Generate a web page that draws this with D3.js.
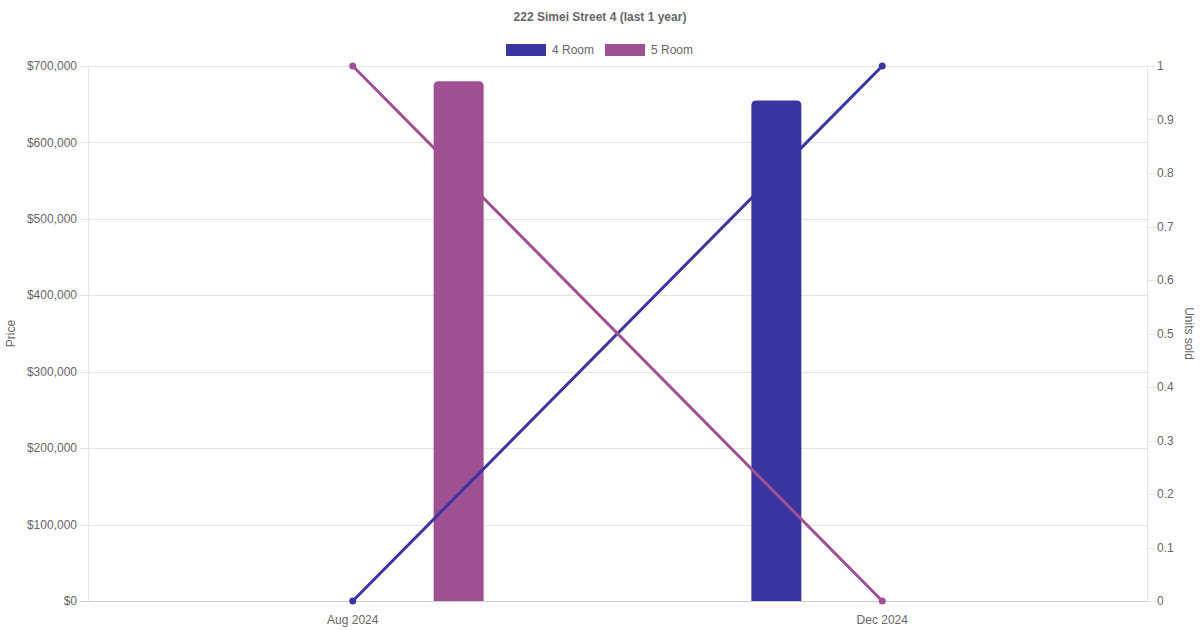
<!DOCTYPE html>
<html>
<head>
<meta charset="utf-8">
<script src="https://cdn.jsdelivr.net/npm/d3@7"></script>
<style>
  body { margin: 0; background: #fff; }
  svg { display: block; font-family: "Liberation Sans", Arial, sans-serif; }
</style>
</head>
<body>
<script>
// data
const months = ['Aug 2024', 'Dec 2024'];
const seriesNames = ['4 Room', '5 Room'];
const colors = ['#3a35a0', '#9f5093'];
const priceTicks = [0, 100000, 200000, 300000, 400000, 500000, 600000, 700000];
const unitTicks = [0, 0.1, 0.2, 0.3, 0.4, 0.5, 0.6, 0.7, 0.8, 0.9, 1];
// avg price per month (null = no sale)
const price4Room = [null, 655000];
const price5Room = [680000, null];
// units sold per month
const units4Room = [0, 1];
const units5Room = [1, 0];

const prices = [price4Room, price5Room];
const units = [units4Room, units5Room];

const width = 1200, height = 630;
const margin = { top: 66, right: 53, bottom: 29, left: 88 };

const svg = d3.select('body').append('svg')
  .attr('width', width)
  .attr('height', height);

const x = d3.scaleBand()
  .domain(months)
  .range([margin.left, width - margin.right]);

// bars take the middle 80% of each category
const xSeries = d3.scaleBand()
  .domain(seriesNames)
  .range([0.1 * x.bandwidth(), 0.9 * x.bandwidth()]);

const yPrice = d3.scaleLinear()
  .domain([0, 700000])
  .range([height - margin.bottom, margin.top]);

const yUnits = d3.scaleLinear()
  .domain([0, 1])
  .range([height - margin.bottom, margin.top]);

const fmt = d => '$' + d3.format(',')(d);

// grid lines
svg.append('g')
  .selectAll('line')
  .data(priceTicks)
  .join('line')
  .attr('x1', margin.left - 8)
  .attr('x2', width - margin.right)
  .attr('y1', d => Math.round(yPrice(d)) + 0.5)
  .attr('y2', d => Math.round(yPrice(d)) + 0.5)
  .attr('stroke', d => d === 0 ? '#cfcfcf' : '#e5e5e5');

// right tick marks
svg.append('g')
  .selectAll('line')
  .data(unitTicks)
  .join('line')
  .attr('x1', width - margin.right)
  .attr('x2', width - margin.right + 8)
  .attr('y1', d => Math.round(yUnits(d)) + 0.5)
  .attr('y2', d => Math.round(yUnits(d)) + 0.5)
  .attr('stroke', '#e5e5e5');

// axis borders
[margin.left, width - margin.right].forEach(xx => {
  svg.append('line')
    .attr('x1', xx + 0.5).attr('x2', xx + 0.5)
    .attr('y1', margin.top).attr('y2', height - margin.bottom)
    .attr('stroke', '#e5e5e5');
});

// left labels
svg.append('g')
  .selectAll('text')
  .data(priceTicks)
  .join('text')
  .attr('x', margin.left - 11)
  .attr('y', d => yPrice(d))
  .attr('dy', '0.35em')
  .attr('text-anchor', 'end')
  .attr('font-size', 12)
  .attr('fill', '#666')
  .text(fmt);

// right labels
svg.append('g')
  .selectAll('text')
  .data(unitTicks)
  .join('text')
  .attr('x', width - margin.right + 10)
  .attr('y', d => yUnits(d))
  .attr('dy', '0.35em')
  .attr('font-size', 12)
  .attr('fill', '#666')
  .text(d => d3.format('~g')(d));

// x labels
svg.append('g')
  .selectAll('text')
  .data(months)
  .join('text')
  .attr('x', d => x(d) + x.bandwidth() / 2)
  .attr('y', height - margin.bottom + 23)
  .attr('text-anchor', 'middle')
  .attr('font-size', 12)
  .attr('fill', '#666')
  .text(d => d);

// axis titles
svg.append('text')
  .attr('transform', `translate(15,${(margin.top + height - margin.bottom) / 2}) rotate(-90)`)
  .attr('text-anchor', 'middle')
  .attr('font-size', 12)
  .attr('fill', '#666')
  .text('Price');

svg.append('text')
  .attr('transform', `translate(1185,${(margin.top + height - margin.bottom) / 2}) rotate(90)`)
  .attr('text-anchor', 'middle')
  .attr('font-size', 12)
  .attr('fill', '#666')
  .text('Units sold');

// bars
const barW = 50;
function roundedTop(x0, y0, w, h, r) {
  r = Math.min(r, h);
  return `M${x0},${y0 + h}V${y0 + r}Q${x0},${y0} ${x0 + r},${y0}H${x0 + w - r}Q${x0 + w},${y0} ${x0 + w},${y0 + r}V${y0 + h}Z`;
}
seriesNames.forEach((s, si) => {
  const data = months.map((m, i) => ({ m, v: prices[si][i] })).filter(d => d.v != null);
  svg.append('g')
    .selectAll('path')
    .data(data)
    .join('path')
    .attr('d', d => {
      const cx = x(d.m) + xSeries(s) + xSeries.bandwidth() / 2;
      const top = yPrice(d.v);
      return roundedTop(cx - barW / 2, top, barW, yPrice(0) - top, 5);
    })
    .attr('fill', colors[si]);
});

// lines
const line = d3.line()
  .x(d => x(d.m) + x.bandwidth() / 2)
  .y(d => yUnits(d.v));
seriesNames.forEach((s, si) => {
  const data = months.map((m, i) => ({ m, v: units[si][i] }));
  svg.append('path')
    .datum(data)
    .attr('d', line)
    .attr('fill', 'none')
    .attr('stroke', colors[si])
    .attr('stroke-width', 3);
  svg.append('g')
    .selectAll('circle')
    .data(data)
    .join('circle')
    .attr('cx', d => x(d.m) + x.bandwidth() / 2)
    .attr('cy', d => yUnits(d.v))
    .attr('r', 3.5)
    .attr('fill', colors[si]);
});

// title
svg.append('text')
  .attr('x', width / 2)
  .attr('y', 21)
  .attr('text-anchor', 'middle')
  .attr('font-size', 12)
  .attr('font-weight', 'bold')
  .attr('fill', '#666')
  .text('222 Simei Street 4 (last 1 year)');

// legend
const legendX = [506, 605];
const legend = svg.append('g')
  .selectAll('g')
  .data(seriesNames)
  .join('g')
  .attr('transform', (d, i) => `translate(${legendX[i]},44)`);
legend.append('rect')
  .attr('width', 40)
  .attr('height', 12)
  .attr('fill', (d, i) => colors[i]);
legend.append('text')
  .attr('x', 46)
  .attr('y', 6)
  .attr('dy', '0.35em')
  .attr('font-size', 12)
  .attr('fill', '#666')
  .text(d => d);
</script>
</body>
</html>
